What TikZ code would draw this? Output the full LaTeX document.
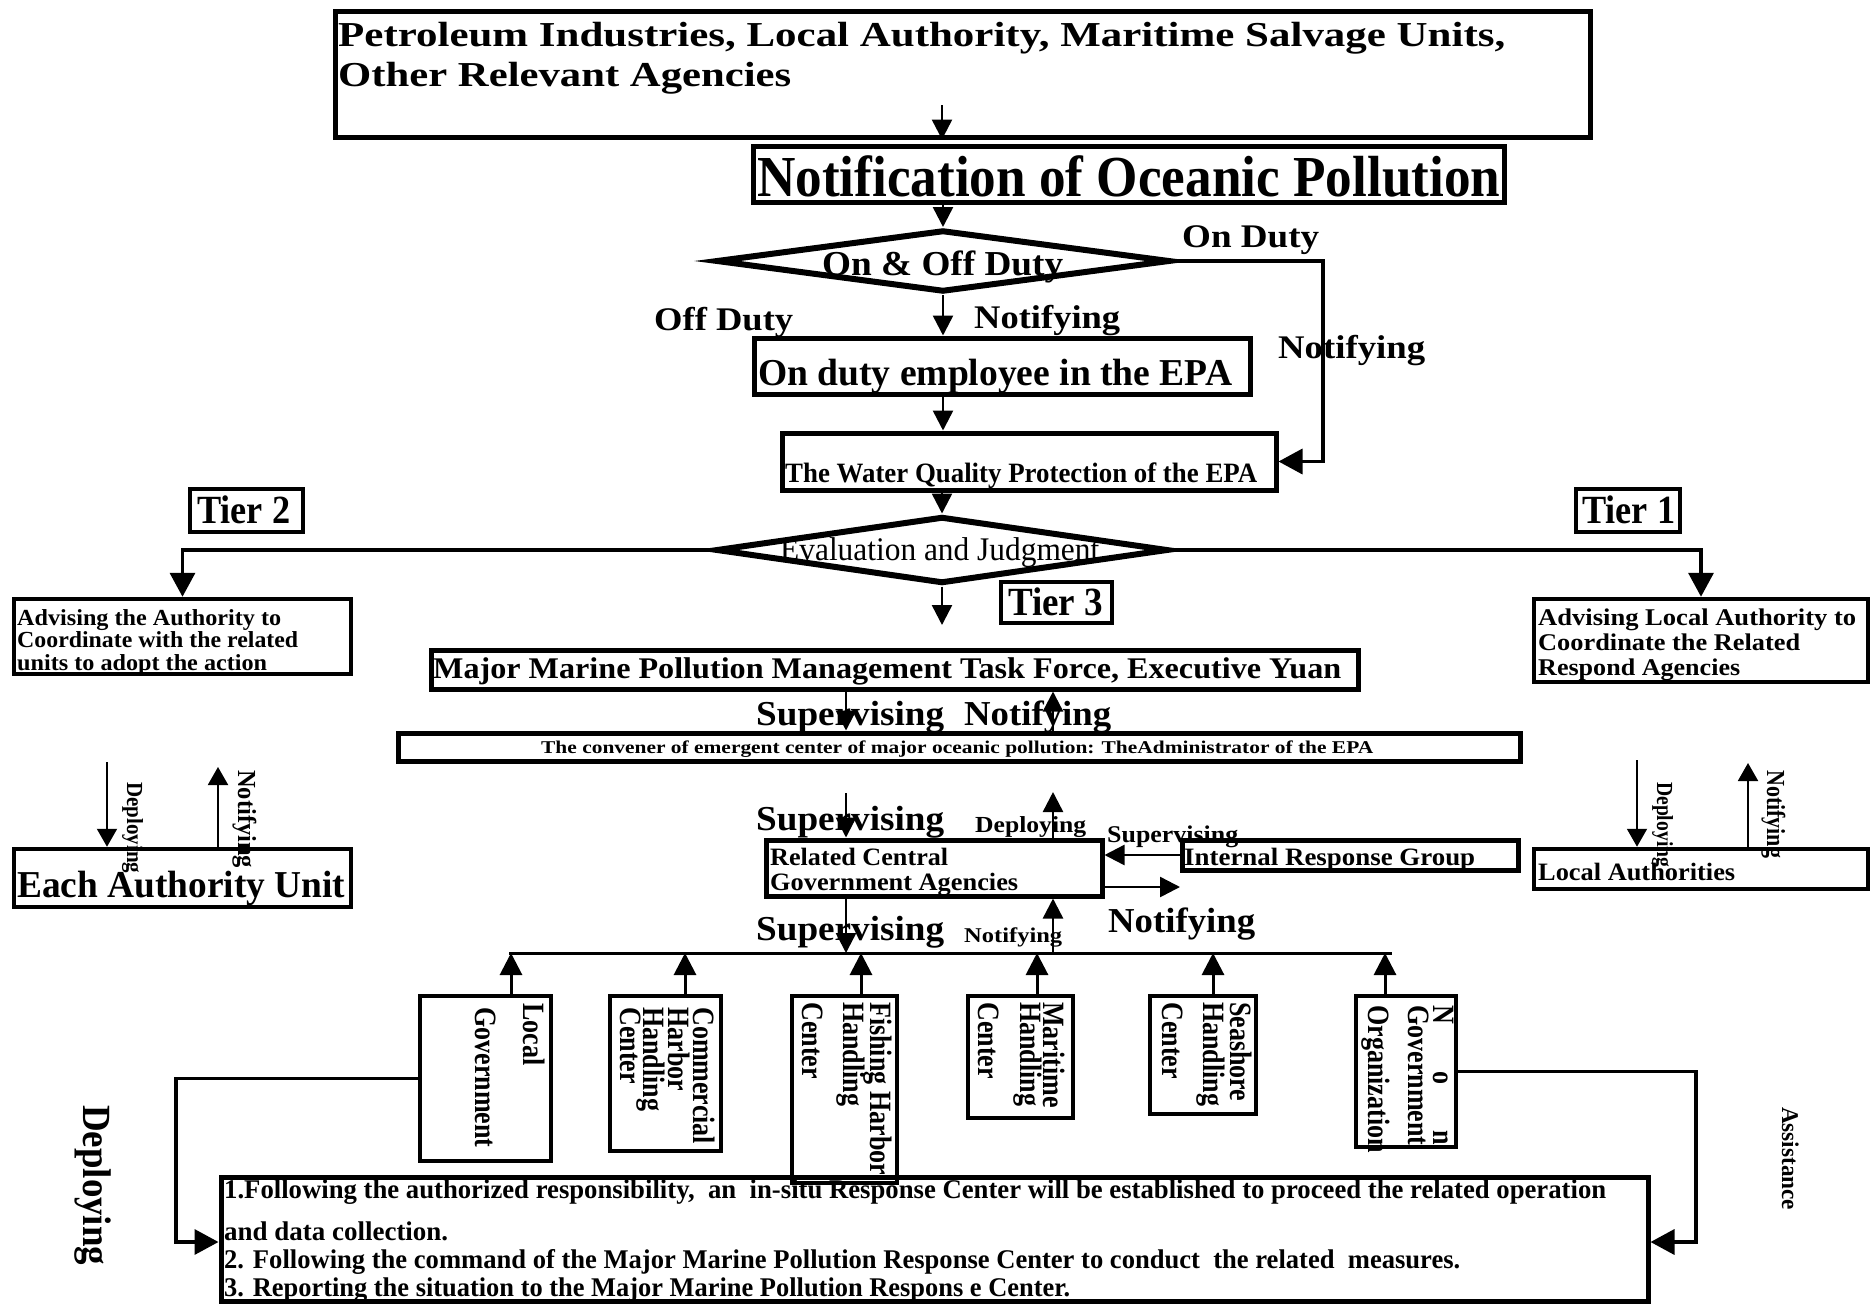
\documentclass[tikz,border=0pt]{standalone}
\usepackage{graphicx}
\usepackage{fontspec}
\setmainfont{Liberation Serif}
\usetikzlibrary{arrows.meta,shapes.geometric}
\newcommand\fitb[3]{\resizebox{#1pt}{\height}{\fontsize{#2pt}{#2pt}\selectfont\bfseries #3}}
\newcommand\fitr[3]{\resizebox{#1pt}{\height}{\fontsize{#2pt}{#2pt}\selectfont #3}}
\newcommand\rotb[1]{\scalebox{0.84}[1]{\fontsize{31pt}{31pt}\selectfont\bfseries #1}}
\tikzset{
  box/.style={draw, line width=5pt, rectangle, inner sep=0pt},
  dia/.style={draw, diamond, line width=6pt, inner sep=0pt},
  txt/.style={inner sep=0pt, anchor=base west},
  rtxt/.style={inner sep=0pt, anchor=base west, rotate=-90},
  arr/.style={line width=2.5pt, -{Triangle[length=20pt,width=20pt]}},
  bararr/.style={line width=3pt, -{Triangle[length=22pt,width=22pt]}},
  bigarr/.style={line width=3.5pt, -{Triangle[length=24pt,width=25pt]}},
  thinarr/.style={line width=2pt, -{Triangle[length=18pt,width=20pt]}},
  plain/.style={line width=3pt},
}
\begin{document}
\begin{tikzpicture}[x=1pt,y=-1pt]
\useasboundingbox (0,0) rectangle (1872,1304);

% ---------- boxes ----------
\node[box, minimum width=1255, minimum height=126] (top) at (962.5,74) {};
\node[box, minimum width=751, minimum height=56] (notif) at (1128.5,174) {};
\node[dia, minimum width=454, minimum height=62] (dia1) at (943,261) {};
\node[box, minimum width=496, minimum height=56] (onduty) at (1002,366) {};
\node[box, minimum width=494, minimum height=57] (wqp) at (1029,461.5) {};
\node[dia, minimum width=452, minimum height=67] (dia2) at (942,550) {};
\node[box, line width=4.5pt, minimum width=113, minimum height=43] (tier2) at (246.5,510.5) {};
\node[box, line width=4.5pt, minimum width=104, minimum height=43] (tier1) at (1628,510.5) {};
\node[box, line width=4.5pt, minimum width=111, minimum height=41] (tier3) at (1056.5,602.5) {};
\node[box, line width=4.5pt, minimum width=337, minimum height=75] (adv2) at (182.5,636.5) {};
\node[box, line width=4.5pt, minimum width=334, minimum height=83] (adv1) at (1701,640.5) {};
\node[box, minimum width=927, minimum height=39] (major) at (894.5,669.5) {};
\node[box, minimum width=1122, minimum height=28] (conv) at (959,747) {};
\node[box, line width=4.5pt, minimum width=337, minimum height=58] (eau) at (182.5,878) {};
\node[box, line width=4.5pt, minimum width=334, minimum height=40] (la) at (1701,869) {};
\node[box, minimum width=336, minimum height=56] (rc) at (934,868) {};
\node[box, minimum width=336, minimum height=30] (irg) at (1350,855) {};
\node[box, line width=4.5pt, minimum width=131, minimum height=165] (lg) at (485.5,1078.5) {};
\node[box, line width=4.5pt, minimum width=111, minimum height=155] (com) at (665.5,1073.5) {};
\node[box, minimum width=1427, minimum height=124] (bot) at (934.5,1239) {};
\node[box, line width=4.5pt, minimum width=105, minimum height=187] (fish) at (844.5,1089.5) {};
\node[box, line width=4.5pt, minimum width=105, minimum height=122] (mar) at (1020.5,1057) {};
\node[box, line width=4.5pt, minimum width=106, minimum height=118] (sea) at (1203,1055) {};
\node[box, line width=4.5pt, minimum width=100, minimum height=151] (ngo) at (1406,1071.5) {};

% ---------- helper coordinates ----------
\coordinate (c1) at (942,105);
\coordinate (c2) at (1323,261);
\coordinate (c3) at (942,625);
\coordinate (sx) at (846,700);
\coordinate (nx) at (1053,700);
\coordinate (s2) at (846,793);
\coordinate (d2) at (1053,792);
\coordinate (n3) at (1180,887);
\coordinate (barL) at (509,953);
\coordinate (barR) at (1392,953);
\coordinate (bA) at (511,953);
\coordinate (bB) at (685,953);
\coordinate (bC) at (861,953);
\coordinate (bD) at (1037,953);
\coordinate (bE) at (1213,953);
\coordinate (bF) at (1385,953);
\coordinate (dl) at (176,1242);
\coordinate (dr) at (1696,1242);
\coordinate (ldep) at (107,762);
\coordinate (lnot) at (218,767);
\coordinate (rdep) at (1637,760);
\coordinate (rnot) at (1748,763);

% ---------- connectors ----------
\draw[arr] (c1) -- (c1 |- top.south);
\draw[arr] (notif.south -| dia1.north) -- (dia1.north);
\draw[arr] (dia1.south) -- (dia1.south |- onduty.north);
\draw[bigarr] (dia1.east) -- (c2) |- (wqp.east);
\draw[arr] (onduty.south -| dia1.south) -- (wqp.north -| dia1.south);
\draw[arr] (wqp.south -| dia2.north) -- (dia2.north);
\draw[bigarr] (dia2.west) -| (adv2.north);
\draw[bigarr] (dia2.east) -| (adv1.north);
\draw[arr] (dia2.south) -- (c3);
\draw[arr] (major.south -| sx) -- (conv.north -| sx);
\draw[arr] (conv.north -| nx) -- (major.south -| nx);
\draw[arr] (s2) -- (rc.north -| s2);
\draw[arr] (rc.north -| d2) -- (d2);
\draw[arr] (irg.west) -- (irg.west -| rc.east);
\draw[arr] (rc.east |- n3) -- (n3);
\draw[plain] (barL) -- (barR);
\draw[arr] (rc.south -| sx) -- (barL -| sx);
\draw[arr] (barL -| nx) -- (rc.south -| nx);
\draw[bararr] (lg.north -| bA) -- (bA);
\draw[bararr] (com.north -| bB) -- (bB);
\draw[bararr] (fish.north -| bC) -- (bC);
\draw[bararr] (mar.north -| bD) -- (bD);
\draw[bararr] (sea.north -| bE) -- (bE);
\draw[bararr] (ngo.north -| bF) -- (bF);
\draw[bigarr] (lg.west) -| (dl) -- (dl -| bot.west);
\draw[bigarr] (ngo.east) -| (dr) -- (dr -| bot.east);
\draw[thinarr] (ldep) -- (eau.north -| ldep);
\draw[thinarr] (eau.north -| lnot) -- (lnot);
\draw[thinarr] (rdep) -- (la.north -| rdep);
\draw[thinarr] (la.north -| rnot) -- (rnot);

% ---------- texts ----------
\node[txt] (t1a) at (338,46) {\fitb{1167}{35}{Petroleum Industries, Local Authority, Maritime Salvage Units,}};
\node[txt] (t1b) at (338,86) {\fitb{453}{35}{Other Relevant Agencies}};
\node[txt] (notifT) at (757,196) {\fitb{743}{58}{Notification of Oceanic Pollution}};
\node[txt] (dia1T) at (822,275) {\fitb{241}{35}{On \& Off Duty}};
\node[txt] (ondutyL) at (1182,247) {\fitb{137}{33}{On Duty}};
\node[txt] (offdutyL) at (654,330) {\fitb{139}{33}{Off Duty}};
\node[txt] (notifM) at (974,328) {\fitb{146}{33}{Notifying}};
\node[txt] (notifR) at (1278,358) {\fitb{147}{33}{Notifying}};
\node[txt] (ondutyT) at (758,385) {\fitb{474}{38}{On duty employee in the EPA}};
\node[txt] (wqpT) at (785,482) {\fitb{472}{28}{The Water Quality Protection of the EPA}};
\node[txt] (dia2T) at (780,560) {\fitr{319}{33}{Evaluation and Judgment}};
\node[txt] (tier2T) at (197,523) {\fitb{93}{40}{Tier 2}};
\node[txt] (tier1T) at (1582,523) {\fitb{93}{40}{Tier 1}};
\node[txt] (tier3T) at (1008,615) {\fitb{95}{40}{Tier 3}};
\node[txt] (adv2a) at (17,625) {\fitb{264}{23}{Advising the Authority to}};
\node[txt] (adv2b) at (17,647) {\fitb{281}{23}{Coordinate with the related}};
\node[txt] (adv2c) at (17,670) {\fitb{250}{23}{units to adopt the action}};
\node[txt] (adv1a) at (1538,625) {\fitb{318}{24}{Advising Local Authority to}};
\node[txt] (adv1b) at (1538,650) {\fitb{262}{24}{Coordinate the Related}};
\node[txt] (adv1c) at (1538,675) {\fitb{202}{24}{Respond Agencies}};
\node[txt] (majorT) at (433,678) {\fitb{908}{30}{Major Marine Pollution Management Task Force, Executive Yuan}};
\node[txt] (supA) at (756,725) {\fitb{188}{35}{Supervising}};
\node[txt] (notA) at (964,725) {\fitb{147}{35}{Notifying}};
\node[txt] (convT) at (541,753) {\fitb{832}{18}{The convener of emergent center of major oceanic pollution: TheAdministrator of the EPA}};
\node[txt] (supB) at (756,830) {\fitb{188}{35}{Supervising}};
\node[txt] (depB) at (975,832) {\fitb{111}{23}{Deploying}};
\node[txt] (supS) at (1107,842) {\fitb{131}{24}{Supervising}};
\node[txt] (rcT1) at (770,865) {\fitb{178}{25}{Related Central}};
\node[txt] (rcT2) at (770,890) {\fitb{248}{25}{Government Agencies}};
\node[txt] (irgT) at (1184,865) {\fitb{291}{25}{Internal Response Group}};
\node[txt] (notB) at (1108,932) {\fitb{147}{35}{Notifying}};
\node[txt] (supC) at (756,940) {\fitb{188}{35}{Supervising}};
\node[txt] (notS) at (964,942) {\fitb{98}{21}{Notifying}};
\node[txt] (eauT) at (17,897) {\fitb{328}{38}{Each Authority Unit}};
\node[txt] (laT) at (1538,880) {\fitb{197}{25}{Local Authorities}};

\node[rtxt] (depL) at (127,782) {\fitb{91}{23}{Deploying}};
\node[rtxt] (notL) at (238,770) {\fitb{98}{26}{Notifying}};
\node[rtxt] (depR) at (1657,782) {\fitb{85}{23}{Deploying}};
\node[rtxt] (notR) at (1767,770) {\fitb{88}{26}{Notifying}};
\node[rtxt] (depBig) at (83,1105) {\fitb{160}{40}{Deploying}};
\node[rtxt] (assist) at (1782,1107) {\fitb{103}{24}{Assistance}};

\node[rtxt] (lg1) at (523,1003) {\rotb{Local}};
\node[rtxt] (lg2) at (475,1007) {\rotb{Government}};
\node[rtxt] (com1) at (693,1007) {\rotb{Commercial}};
\node[rtxt] (com2) at (668,1007) {\rotb{Harbor}};
\node[rtxt] (com3) at (643,1007) {\rotb{Handling}};
\node[rtxt] (com4) at (620,1007) {\rotb{Center}};
\node[rtxt] (fish1) at (870,1002) {\rotb{Fishing Harbor}};
\node[rtxt] (fish2) at (843,1002) {\rotb{Handling}};
\node[rtxt] (fish3) at (802,1002) {\rotb{Center}};
\node[rtxt] (mar1) at (1043,1002) {\rotb{Maritime}};
\node[rtxt] (mar2) at (1020,1002) {\rotb{Handling}};
\node[rtxt] (mar3) at (978,1002) {\rotb{Center}};
\node[rtxt] (sea1) at (1230,1002) {\rotb{Seashore}};
\node[rtxt] (sea2) at (1203,1002) {\rotb{Handling}};
\node[rtxt] (sea3) at (1162,1002) {\rotb{Center}};
\node[rtxt] (ngo1) at (1433,1005) {\rotb{N\hspace{56pt}o\hspace{55pt}n}};
\node[rtxt] (ngo2) at (1408,1005) {\rotb{Government}};
\node[rtxt] (ngo3) at (1368,1005) {\rotb{Organization}};

\node[txt] (b1) at (224,1198) {\fitb{1382}{27}{1.Following the authorized responsibility,\ \ an\ \ in-situ Response Center will be established to proceed the related operation}};
\node[txt] (b2) at (224,1240) {\fitb{224}{27}{and data collection.}};
\node[txt] (b3) at (224,1268) {\fitb{1236}{27}{2. Following the command of the Major Marine Pollution Response Center to conduct\ \ the related\ \ measures.}};
\node[txt] (b4) at (224,1296) {\fitb{846}{27}{3. Reporting the situation to the Major Marine Pollution Respons e Center.}};
\end{tikzpicture}
\end{document}
